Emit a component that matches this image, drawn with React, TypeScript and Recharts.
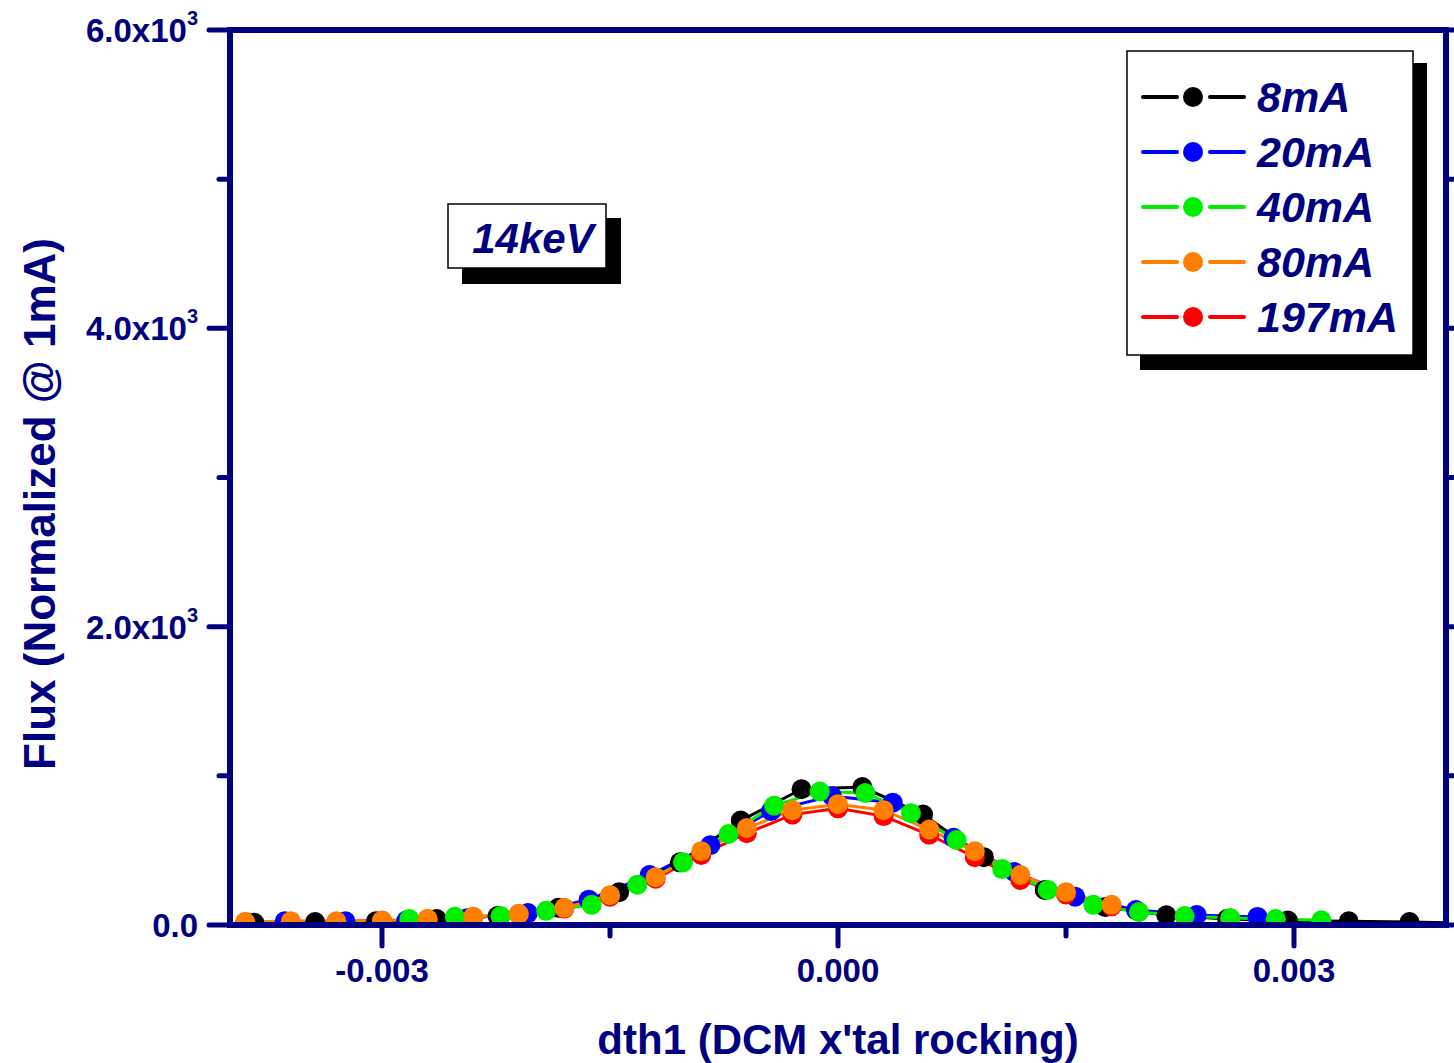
import { LineChart, Line, XAxis, YAxis } from 'recharts';

const NAVY = '#000080';
const FONT = '"Liberation Sans", Arial, sans-serif';

const xTicks = [-0.003, -0.0015, 0, 0.0015, 0.003];
const xTickLabels = ['-0.003', '', '0.000', '', '0.003'];
const yTicks = [0, 1000, 2000, 3000, 4000, 5000, 6000];
const yTickLabels = ['0.0', '', '2.0x10', '', '4.0x10', '', '6.0x10'];

// 8mA
const x8mA = [
  -0.00384, -0.00344, -0.00304, -0.00264, -0.00224, -0.00184, -0.00144, -0.00104, -0.00064, -0.00024,
  0.00016, 0.00056, 0.00096, 0.00136, 0.00176, 0.00216, 0.00256, 0.00296, 0.00336, 0.00376, 0.00416,
];
const y8mA = [15, 20, 25, 40, 60, 115, 220, 420, 700, 910, 925, 740, 455, 235, 120, 65, 40, 30, 25, 20, 12];

// 20mA
const x20mA = [
  -0.00364, -0.00324, -0.00284, -0.00244, -0.00204, -0.00164, -0.00124, -0.00084, -0.00044, -0.00004,
  0.00036, 0.00076, 0.00116, 0.00156, 0.00196, 0.00236, 0.00276,
];
const y20mA = [25, 25, 30, 45, 80, 170, 335, 535, 765, 865, 820, 585, 355, 190, 100, 67, 54];

// 40mA
const x40mA = [
  -0.00282, -0.00252, -0.00222, -0.00192, -0.00162, -0.00132, -0.00102, -0.00072, -0.00042, -0.00012,
  0.00018, 0.00048, 0.00078, 0.00108, 0.00138, 0.00168, 0.00198, 0.00228, 0.00258, 0.00288, 0.00318,
];
const y40mA = [40, 55, 60, 95, 135, 270, 420, 610, 800, 895, 885, 750, 570, 375, 235, 135, 87, 60, 47, 40, 32];

// 80mA and 197mA share the same scan positions
const x80mA = [
  -0.0039, -0.0036, -0.0033, -0.003, -0.0027, -0.0024, -0.0021, -0.0018, -0.0015, -0.0012,
  -0.0009, -0.0006, -0.0003, 0, 0.0003, 0.0006, 0.0009, 0.0012, 0.0015, 0.0018,
];
const y80mA = [20, 25, 25, 30, 40, 55, 75, 115, 200, 320, 495, 650, 770, 810, 770, 640, 495, 335, 220, 135];
const x197mA = x80mA;
const y197mA = [18, 22, 22, 28, 38, 52, 72, 110, 190, 310, 470, 615, 740, 782, 730, 605, 455, 302, 205, 125];

const toPoints = (xs: number[], ys: number[]) => xs.map((x, i) => ({ x, y: ys[i] }));

const series = [
  { name: '8mA', color: '#000000', data: toPoints(x8mA, y8mA) },
  { name: '20mA', color: '#0000ff', data: toPoints(x20mA, y20mA) },
  { name: '40mA', color: '#00ee00', data: toPoints(x40mA, y40mA) },
  { name: '80mA', color: '#ff8000', data: toPoints(x80mA, y80mA) },
  { name: '197mA', color: '#ff0000', data: toPoints(x197mA, y197mA) },
];
// drawing order seen in the picture: orange on top, red just under it
const drawOrder = ['8mA', '20mA', '197mA', '40mA', '80mA'];

const MAJOR = 21;
const MINOR = 11;

function BottomTick({ x, y, index }: any) {
  const label = xTickLabels[index];
  return (
    <g>
      <line x1={x} y1={y} x2={x} y2={y + (label ? MAJOR : MINOR)} stroke={NAVY} strokeWidth={5} strokeLinecap="round" />
      {label && (
        <text x={x} y={y + 57} textAnchor="middle" fill={NAVY} fontSize={33} fontWeight="bold" fontFamily={FONT}>
          {label}
        </text>
      )}
    </g>
  );
}

function TopTick({ x, y, index }: any) {
  const major = xTickLabels[index] !== '';
  return <line x1={x} y1={y} x2={x} y2={y - (major ? MAJOR : MINOR)} stroke={NAVY} strokeWidth={5} strokeLinecap="round" />;
}

function LeftTick({ x, y, index }: any) {
  const label = yTickLabels[index];
  const hasExp = label.includes('x10');
  return (
    <g>
      <line x1={x} y1={y} x2={x - (label ? MAJOR : MINOR)} y2={y} stroke={NAVY} strokeWidth={5} strokeLinecap="round" />
      {label && (
        <text x={x - 32} y={y + 12} textAnchor="end" fill={NAVY} fontSize={33} fontWeight="bold" fontFamily={FONT}>
          {label}
          {hasExp && (
            <tspan fontSize={20} dy={-17}>
              3
            </tspan>
          )}
        </text>
      )}
    </g>
  );
}

function RightTick({ x, y, index }: any) {
  const major = yTickLabels[index] !== '';
  return <line x1={x} y1={y} x2={x + (major ? MAJOR : MINOR)} y2={y} stroke={NAVY} strokeWidth={5} strokeLinecap="round" />;
}

const axisLine = { stroke: NAVY, strokeWidth: 6, strokeLinecap: 'square' as const };

// markers are cut by the frame, as in the original plot
const makeDot = (color: string) => (p: any) => (
  <circle key={`dot-${p.index}`} cx={p.cx} cy={p.cy} r={10} fill={color} clipPath="url(#plot-inner-clip)" />
);

function Overlay() {
  const rows = [97, 152, 207, 262, 317];
  return (
    <svg width={1454} height={1063} style={{ position: 'absolute', left: 0, top: 0, pointerEvents: 'none' }}>
      <defs>
        <clipPath id="plot-inner-clip" clipPathUnits="userSpaceOnUse">
          <rect x={233} y={33} width={1210} height={889} />
        </clipPath>
      </defs>
      {/* energy label */}
      <rect x={462} y={218} width={159} height={66} fill="#000" />
      <rect x={448} y={204} width={158} height={64} fill="#fff" stroke="#000" strokeWidth={1.5} />
      <text x={533} y={253} textAnchor="middle" fill={NAVY} fontSize={42} fontWeight="bold" fontStyle="italic" fontFamily={FONT}>
        14keV
      </text>

      {/* legend */}
      <rect x={1140} y={63} width={287} height={307} fill="#000" />
      <rect x={1127} y={51} width={286} height={304} fill="#fff" stroke="#000" strokeWidth={1.5} />
      {series.map((s, i) => (
        <g key={s.name}>
          <line x1={1143} y1={rows[i]} x2={1177} y2={rows[i]} stroke={s.color} strokeWidth={4} strokeLinecap="round" />
          <line x1={1210} y1={rows[i]} x2={1244} y2={rows[i]} stroke={s.color} strokeWidth={4} strokeLinecap="round" />
          <circle cx={1193} cy={rows[i]} r={10} fill={s.color} />
          <text x={1257} y={rows[i] + 15} fill={NAVY} fontSize={43} fontWeight="bold" fontStyle="italic" fontFamily={FONT}>
            {s.name}
          </text>
        </g>
      ))}

      {/* axis titles */}
      <text
        transform="translate(55, 504) rotate(-90)"
        textAnchor="middle"
        fill={NAVY}
        fontSize={44}
        fontWeight="bold"
        fontFamily={FONT}
      >
        Flux (Normalized @ 1mA)
      </text>
      <text x={838} y={1054} textAnchor="middle" fill={NAVY} fontSize={42} fontWeight="bold" fontFamily={FONT}>
        dth1 (DCM x'tal rocking)
      </text>
    </svg>
  );
}

export default function App() {
  return (
    <div style={{ position: 'absolute', left: 0, top: 0, width: 1454, height: 1063, background: '#fff' }}>
      <LineChart width={1454} height={1063} margin={{ top: 0, right: 0, bottom: 0, left: 0 }}>
        <XAxis
          xAxisId="main"
          type="number"
          dataKey="x"
          domain={[-0.004, 0.004]}
          allowDataOverflow
          ticks={xTicks}
          interval={0}
          height={138}
          tickSize={0}
          tickMargin={0}
          tickLine={false}
          axisLine={axisLine}
          tick={BottomTick}
        />
        <XAxis
          xAxisId="top"
          orientation="top"
          type="number"
          domain={[-0.004, 0.004]}
          allowDataOverflow
          ticks={xTicks}
          interval={0}
          height={30}
          tickSize={0}
          tickMargin={0}
          tickLine={false}
          axisLine={axisLine}
          tick={TopTick}
        />
        <YAxis
          yAxisId="main"
          type="number"
          domain={[0, 6000]}
          allowDataOverflow
          ticks={yTicks}
          interval={0}
          width={230}
          tickSize={0}
          tickMargin={0}
          tickLine={false}
          axisLine={axisLine}
          tick={LeftTick}
        />
        <YAxis
          yAxisId="right"
          orientation="right"
          type="number"
          domain={[0, 6000]}
          allowDataOverflow
          ticks={yTicks}
          interval={0}
          width={8}
          tickSize={0}
          tickMargin={0}
          tickLine={false}
          axisLine={axisLine}
          tick={RightTick}
        />
        {drawOrder.map((name) => {
          const s = series.find((d) => d.name === name)!;
          return (
            <Line
              key={s.name}
              xAxisId="main"
              yAxisId="main"
              data={s.data}
              dataKey="y"
              name={s.name}
              type="linear"
              stroke={s.color}
              strokeWidth={3}
              dot={makeDot(s.color)}
              activeDot={false}
              isAnimationActive={false}
            />
          );
        })}
      </LineChart>
      <Overlay />
    </div>
  );
}
